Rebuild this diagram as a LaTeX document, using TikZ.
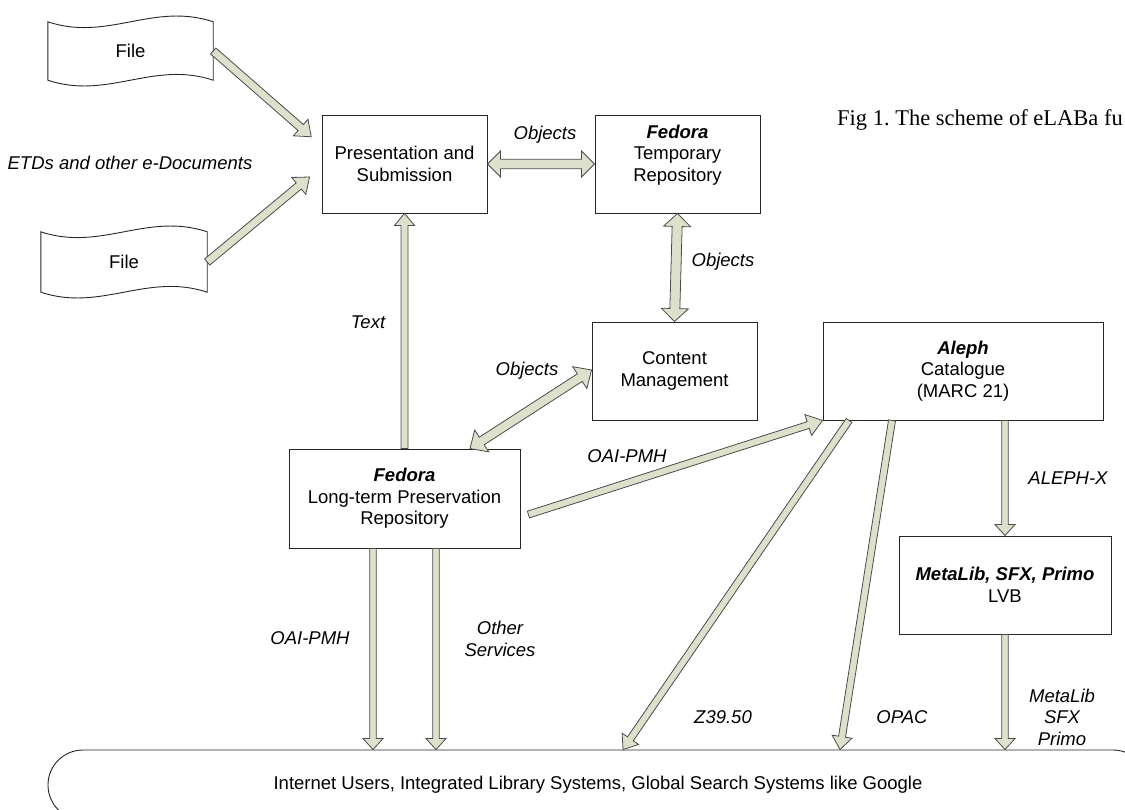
\documentclass[tikz,border=0pt]{standalone}
\usepackage{fontspec}
\setmainfont{Liberation Sans}
\newfontfamily\figfont{Liberation Serif}
\usetikzlibrary{calc}

\definecolor{arrowfill}{RGB}{221,225,204}
\definecolor{arrowline}{RGB}{75,75,75}

\newcommand{\basefont}{\fontsize{18.5}{21.5}\selectfont}

\tikzset{
  box/.style={draw=black!85, line width=0.9pt, align=center, inner sep=0pt},
  filebox/.style={minimum width=165pt, minimum height=58pt, inner sep=0pt},
  wave/.style={draw=black!85, line width=0.9pt},
  lbl/.style={font=\basefont\itshape, align=center, inner sep=0pt},
  arrowbody/.style={draw=arrowline, fill=arrowfill, line width=0.8pt},
}

% angle and length between two points
\newcommand{\arrowsetup}[2]{%
  \path let \p1=(#1), \p2=(#2) in \pgfextra{%
    \pgfmathsetmacro\tmpang{atan2(\y2-\y1,\x2-\x1)}%
    \pgfmathsetmacro\tmplen{veclen(\x2-\x1,\y2-\y1)}%
    \xdef\arrang{\tmpang}\xdef\arrlen{\tmplen}};%
}
% block arrow: from, to, shaft half width, head half width, head length
\newcommand{\sarrow}[5]{%
  \arrowsetup{#1}{#2}%
  \draw[arrowbody, shift={(#1)}, rotate=\arrang]
    (0pt,-#3pt) -- ({\arrlen pt-#5pt},-#3pt) -- ({\arrlen pt-#5pt},-#4pt) -- (\arrlen pt,0pt)
    -- ({\arrlen pt-#5pt},#4pt) -- ({\arrlen pt-#5pt},#3pt) -- (0pt,#3pt) -- cycle;
}
\newcommand{\darrow}[5]{%
  \arrowsetup{#1}{#2}%
  \draw[arrowbody, shift={(#1)}, rotate=\arrang]
    (0pt,0pt) -- (#5pt,#4pt) -- (#5pt,#3pt) -- ({\arrlen pt-#5pt},#3pt) -- ({\arrlen pt-#5pt},#4pt)
    -- (\arrlen pt,0pt) -- ({\arrlen pt-#5pt},-#4pt) -- ({\arrlen pt-#5pt},-#3pt)
    -- (#5pt,-#3pt) -- (#5pt,-#4pt) -- cycle;
}

\begin{document}
\begin{tikzpicture}[x=1pt, y=-1pt, font=\basefont]
\useasboundingbox (0,0) rectangle (1125,809);

% boxes
\node[box, minimum width=165pt, minimum height=98pt] (pres) at (404.5,164) {Presentation and\\Submission};
\node[box, minimum width=165pt, minimum height=98pt] (tmp) at (677.5,164) {\textbf{\textit{Fedora}}\\Temporary\\Repository\\\mbox{}};
\node[box, minimum width=165pt, minimum height=98pt] (cm) at (674.5,371) {Content\\Management};
\node[box, minimum width=280pt, minimum height=98pt] (aleph) at (963,371) {\textbf{\textit{Aleph}}\\Catalogue\\(MARC 21)};
\node[box, minimum width=231pt, minimum height=99pt] (ltp) at (404.5,498.5) {\textbf{\textit{Fedora}}\\Long-term Preservation\\Repository};
\node[box, minimum width=212pt, minimum height=98pt] (meta) at (1005,585) {\textbf{\textit{MetaLib, SFX, Primo}}\\LVB};
\node[box, rounded corners=35pt, minimum width=1100pt, minimum height=70pt] (users) at (598,785)
  {Internet Users, Integrated Library Systems, Global Search Systems like Google};

% files
\node[filebox] (file1) at (130.5,51) {File};
\draw[wave] (file1.north west) .. controls +(60,20) and +(-60,-20) .. (file1.north east) -- (file1.south east)
  .. controls +(-60,-20) and +(60,20) .. (file1.south west) -- cycle;
\node[filebox, minimum width=166pt, minimum height=60pt] (file2) at (124,262) {File};
\draw[wave] (file2.north west) .. controls +(60,20) and +(-60,-20) .. (file2.north east) -- (file2.south east)
  .. controls +(-60,-20) and +(60,20) .. (file2.south west) -- cycle;

% arrow ends
\coordinate (pin1) at ($(pres.west)+(-10,-27)$);
\coordinate (pin2) at ($(pres.west)+(-12,13)$);
\coordinate (ltpT) at ($(ltp.north)+(65.5,0)$);
\coordinate (ltpE) at ($(ltp.east)+(8,16)$);
\coordinate (ltpL) at ($(ltp.south)+(-31.5,0)$);
\coordinate (ltpR) at ($(ltp.south)+(31.5,0)$);
\coordinate (cmW) at ($(cm.west)+(0,-1)$);
\coordinate (alZ) at ($(aleph.south)+(-114,0)$);
\coordinate (alO) at ($(aleph.south)+(-71,0)$);
\coordinate (alM) at (meta.north |- aleph.south);
\coordinate (usZ) at ($(users.north)+(25,0)$);
\coordinate (usO) at ($(users.north)+(242,0)$);
\coordinate (usM) at (meta.south |- users.north);
\coordinate (usL) at (ltpL |- users.north);
\coordinate (usR) at (ltpR |- users.north);

% arrows
\sarrow{file1.east}{pin1}{4}{11}{14}
\sarrow{file2.east}{pin2}{4}{11}{14}
\darrow{pres.east}{tmp.west}{4.7}{13}{13}
\darrow{tmp.south}{cm.north}{5}{13.5}{13}
\darrow{cmW}{ltpT}{4.5}{13}{14}
\sarrow{ltp.north}{pres.south}{3.5}{10}{12}
\sarrow{ltpE}{aleph.south west}{3.5}{11}{15}
\sarrow{ltpL}{usL}{3.25}{10}{11}
\sarrow{ltpR}{usR}{3.25}{10}{11}
\sarrow{alZ}{usZ}{3.5}{10}{13}
\sarrow{alO}{usO}{3.5}{10}{13}
\sarrow{alM}{meta.north}{3.25}{10}{11}
\sarrow{meta.south}{usM}{3.25}{10}{11}

% labels
\node[lbl] (etd) at (130,163) {ETDs and other e-Documents};
\node[lbl] (obj1) at (545,135) {Objects};
\node[lbl] (obj2) at (723,262) {Objects};
\node[lbl] (obj3) at (527,371) {Objects};
\node[lbl] (txt) at (368,322) {Text};
\node[lbl] (oai1) at (627,456) {OAI-PMH};
\node[lbl] (alx) at (1068,478) {ALEPH-X};
\node[lbl] (oai2) at (310,638) {OAI-PMH};
\node[lbl] (oth) at (500,639) {Other\\Services};
\node[lbl] (z39) at (723,717) {Z39.50};
\node[lbl] (opac) at (902,717) {OPAC};
\node[lbl] (mls) at (1062,717) {MetaLib\\SFX\\Primo};
\node[font=\figfont\fontsize{22.5}{27}\selectfont\frenchspacing, anchor=base west, inner sep=0pt] (fig) at (837,125)
  {Fig 1. The scheme of eLABa fu};
\end{tikzpicture}
\end{document}
